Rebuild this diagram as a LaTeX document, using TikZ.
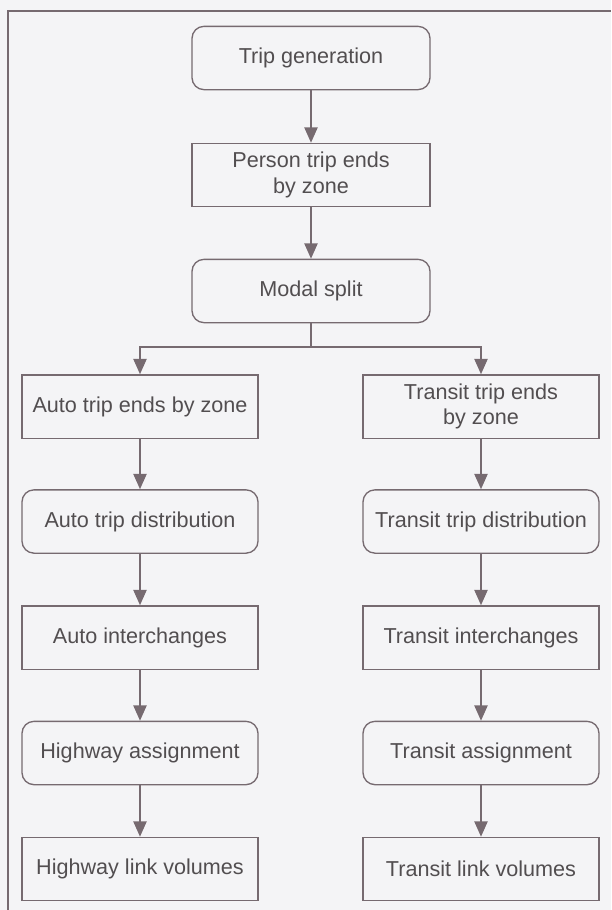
\documentclass[tikz,border=0pt]{standalone}
\usepackage{fontspec}
\setmainfont{Liberation Sans}
\usepackage{tikz}
\usetikzlibrary{arrows.meta}
\usetikzlibrary{positioning}

\definecolor{scanbg}{RGB}{244,244,246}
\definecolor{boxline}{RGB}{118,106,112}
\definecolor{boxtext}{RGB}{82,78,80}

\tikzset{
  stage/.style={draw=boxline, line width=1pt, text=boxtext, align=center,
    minimum width=177pt, minimum height=47.5pt, inner sep=0pt,
    font=\fontsize{16.2}{19}\selectfont},
  roundstage/.style={stage, rounded corners=9pt},
  flow/.style={draw=boxline, line width=1pt, -{Triangle[width=10pt,length=11.5pt]}},
  link/.style={draw=boxline, line width=1pt}
}

\begin{document}
\begin{tikzpicture}[x=0.75pt, y=-0.75pt]
    \fill [scanbg] (0, 0) rectangle (611, 910);
    \useasboundingbox (0, 0) rectangle (611, 910);
    \draw [link] (8, 910) -- (8, 11) -- (611, 11);

    \node [roundstage, minimum width=178.5pt] (tripgen) at (311, 58) {Trip generation};
    \node [stage, minimum width=178.5pt] (personends) at (311, 175) {Person trip ends\\by zone};
    \node [roundstage, minimum width=178.5pt] (modal) at (311, 291) {Modal split};
    \coordinate (split) at (311, 347);

    \node [stage] (autoends) at (140, 406.5) {Auto trip ends by zone};
    \node [roundstage] (autodist) at (140, 521.5) {Auto trip distribution};
    \node [stage] (autoint) at (140, 637.5) {Auto interchanges};
    \node [roundstage] (hwyassign) at (140, 753) {Highway assignment};
    \node [stage] (hwyvol) at (140, 869) {Highway link volumes};

    \node [stage] (transitends) at (481, 406.5) {Transit trip ends\\by zone};
    \node [roundstage] (transitdist) at (481, 521.5) {Transit trip distribution};
    \node [stage] (transitint) at (481, 637.5) {Transit interchanges};
    \node [roundstage] (transitassign) at (481, 753) {Transit assignment};
    \node [stage] (transitvol) at (481, 869) {Transit link volumes};

    \draw [flow] (tripgen) -- (personends);
    \draw [flow] (personends) -- (modal);
    \draw [link] (modal) -- (split);
    \draw [flow] (split) -| (autoends);
    \draw [flow] (split) -| (transitends);

    \draw [flow] (autoends) -- (autodist);
    \draw [flow] (autodist) -- (autoint);
    \draw [flow] (autoint) -- (hwyassign);
    \draw [flow] (hwyassign) -- (hwyvol);

    \draw [flow] (transitends) -- (transitdist);
    \draw [flow] (transitdist) -- (transitint);
    \draw [flow] (transitint) -- (transitassign);
    \draw [flow] (transitassign) -- (transitvol);
  \end{tikzpicture}
\end{document}
